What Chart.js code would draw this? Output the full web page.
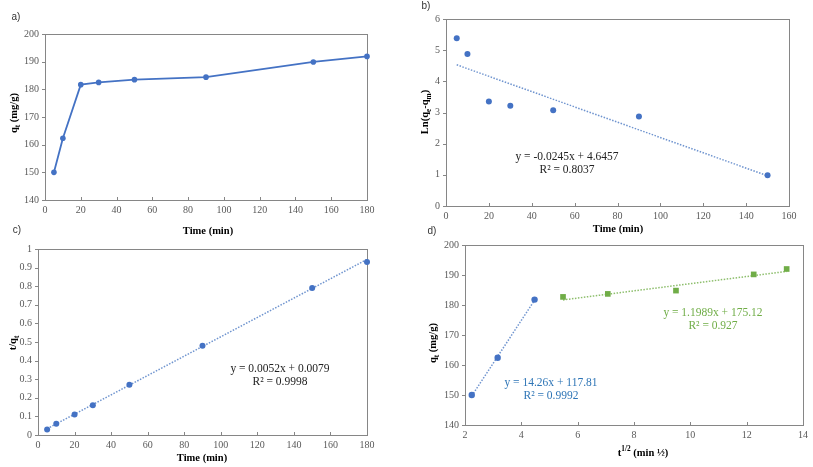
<!DOCTYPE html>
<html><head><meta charset="utf-8">
<script src="https://cdn.jsdelivr.net/npm/chart.js@4"></script>
<style>
html,body{margin:0;padding:0;background:#fff;}
#wrap{position:relative;width:813px;height:467px;overflow:hidden;background:#fff;}
canvas{position:absolute;left:0;top:0;}
.t{position:absolute;transform:translate(-50%,-50%);white-space:nowrap;font-family:'Liberation Serif',serif;color:#000;line-height:1;}
.b{font-weight:bold;font-size:10.5px;}
.r{transform:translate(-50%,-50%) rotate(-90deg);}
.lab{font-family:'Liberation Sans',sans-serif;font-size:10px;color:#333;}
.eq{font-size:11.5px;text-align:center;line-height:12.5px;color:#222;}
sub,sup{font-size:70%;line-height:0;}
</style></head>
<body><div id="wrap">
<canvas id="ca" width="813" height="467"></canvas>
<canvas id="cb" width="813" height="467"></canvas>
<canvas id="cc" width="813" height="467"></canvas>
<canvas id="cd" width="813" height="467"></canvas>

<div class="t lab" style="left:16px;top:17px;">a)</div>
<div class="t lab" style="left:426px;top:6px;">b)</div>
<div class="t lab" style="left:17px;top:230px;">c)</div>
<div class="t lab" style="left:432px;top:231px;">d)</div>

<div class="t b" style="left:208px;top:231px;">Time (min)</div>
<div class="t b r" style="left:14px;top:113px;">q<sub>t</sub> (mg/g)</div>

<div class="t b" style="left:618px;top:229px;">Time (min)</div>
<div class="t b r" style="left:425px;top:112px;">Ln(q<sub>e</sub>-q<sub>m</sub>)</div>

<div class="t b" style="left:202px;top:458px;">Time (min)</div>
<div class="t b r" style="left:13px;top:343px;">t/q<sub>t</sub></div>

<div class="t b" style="left:643px;top:453px;">t<sup>1/2</sup> (min ½)</div>
<div class="t b r" style="left:433px;top:343px;">q<sub>t</sub> (mg/g)</div>

<div class="t eq" style="left:567px;top:162px;">y = -0.0245x + 4.6457<br>R² = 0.8037</div>
<div class="t eq" style="left:280px;top:374px;">y = 0.0052x + 0.0079<br>R² = 0.9998</div>
<div class="t eq" style="left:713px;top:318px;color:#70AD47;">y = 1.1989x + 175.12<br>R² = 0.927</div>
<div class="t eq" style="left:551px;top:388px;color:#2E75B6;">y = 14.26x + 117.81<br>R² = 0.9992</div>
</div>
<script>
// ---- data ----
const timeA = [5, 10, 20, 30, 50, 90, 150, 180];
const qtA = [150, 162.3, 181.7, 182.5, 183.5, 184.4, 189.9, 191.9];

const timeB = [5, 10, 20, 30, 50, 90, 150];
const lnB = [5.38, 4.88, 3.35, 3.22, 3.07, 2.87, 0.99];
const trendBx = [5, 150];
const trendBy = [4.53, 0.97];

const timeC = [5, 10, 20, 30, 50, 90, 150, 180];
const tqC = [0.03, 0.06, 0.11, 0.16, 0.27, 0.48, 0.79, 0.93];
const trendCx = [5, 180];
const trendCy = [0.034, 0.944];

const sqrtT1 = [2.24, 3.16, 4.47];
const qt1 = [150, 162.4, 181.8];
const trend1x = [2.24, 4.47];
const trend1y = [149.7, 181.6];

const sqrtT2 = [5.48, 7.07, 9.49, 12.25, 13.42];
const qt2 = [182.7, 183.7, 184.8, 190.2, 192.0];
const trend2x = [5.48, 13.42];
const trend2y = [181.7, 191.2];

const xTicksA = {min: 0, max: 180, step: 20};
const yTicksA = {min: 140, max: 200, step: 10};
const xTicksB = {min: 0, max: 160, step: 20};
const yTicksB = {min: 0, max: 6, step: 1};
const xTicksC = {min: 0, max: 180, step: 20};
const yTicksC = {min: 0, max: 1, step: 0.1};
const xTicksD = {min: 2, max: 14, step: 2};
const yTicksD = {min: 140, max: 200, step: 10};

// ---- helpers ----
const BLUE = '#4472C4', GREEN = '#70AD47', AX = '#868686';
const pts = (xs, ys) => xs.map((x, i) => ({x: x, y: ys[i]}));
const tickFont = {family: 'Liberation Serif', size: 10};

const boxPlugin = {
  id: 'box',
  beforeDatasetsDraw(c) {
    const a = c.chartArea, ctx = c.ctx;
    ctx.save();
    ctx.strokeStyle = AX; ctx.lineWidth = 1;
    ctx.strokeRect(Math.round(a.left) + 0.5, Math.round(a.top) + 0.5,
      Math.round(a.right - a.left), Math.round(a.bottom - a.top));
    const xs = c.scales.x, ys = c.scales.y;
    ctx.beginPath();
    xs.ticks.forEach(t => { const px = Math.round(xs.getPixelForValue(t.value)) + 0.5;
      ctx.moveTo(px, a.bottom); ctx.lineTo(px, a.bottom - 3); });
    ys.ticks.forEach(t => { const py = Math.round(ys.getPixelForValue(t.value)) + 0.5;
      ctx.moveTo(a.left, py); ctx.lineTo(a.left - 3, py); });
    ctx.stroke();
    ctx.restore();
  }
};

function axis(t, isX) {
  return {
    type: 'linear', min: t.min, max: t.max,
    ticks: {stepSize: t.step, font: tickFont, color: '#595959', padding: isX ? 4 : 6,
      maxRotation: 0, autoSkip: false,
      callback: v => String(Math.round(v * 1000) / 1000)},
    grid: {display: true, drawOnChartArea: false, drawTicks: false, color: AX},
    border: {display: false},
    afterFit(s) { if (isX) s.height = 20; else s.width = 30; }
  };
}

function makeChart(id, pad, xt, yt, datasets) {
  return new Chart(document.getElementById(id), {
    type: 'scatter',
    data: {datasets: datasets},
    options: {
      responsive: false, animation: false, devicePixelRatio: 1,
      layout: {padding: pad},
      plugins: {legend: {display: false}, tooltip: {enabled: false}},
      scales: {x: axis(xt, true), y: axis(yt, false)}
    },
    plugins: [boxPlugin]
  });
}

const dotted = (data, color) => ({data: data, showLine: true, borderColor: color, borderWidth: 1.5,
  borderDash: [1.5, 1.5], pointRadius: 0, clip: false, order: 2});
const marks = (data, color, style, r) => ({data: data, showLine: false, backgroundColor: color,
  borderColor: color, pointStyle: style, pointRadius: r, borderWidth: 0, clip: false, order: 1});

// a
makeChart('ca', {left: 15, right: 446, top: 34, bottom: 247}, xTicksA, yTicksA, [
  {data: pts(timeA, qtA), showLine: true, borderColor: BLUE, borderWidth: 1.8,
   backgroundColor: BLUE, pointRadius: 2.8, pointBorderWidth: 0, clip: false}
]);
// b
makeChart('cb', {left: 416, right: 24, top: 19, bottom: 241}, xTicksB, yTicksB, [
  dotted(pts(trendBx, trendBy), '#6F94CF'),
  marks(pts(timeB, lnB), BLUE, 'circle', 3)
]);
// c
makeChart('cc', {left: 8, right: 446, top: 249, bottom: 12}, xTicksC, yTicksC, [
  dotted(pts(trendCx, trendCy), '#6F94CF'),
  marks(pts(timeC, tqC), BLUE, 'circle', 3)
]);
// d
makeChart('cd', {left: 435, right: 10, top: 245, bottom: 22}, xTicksD, yTicksD, [
  dotted(pts(trend1x, trend1y), '#6F94CF'),
  dotted(pts(trend2x, trend2y), '#8DBE6C'),
  marks(pts(sqrtT1, qt1), BLUE, 'circle', 3.2),
  marks(pts(sqrtT2, qt2), GREEN, 'rect', 4)
]);
</script>
</body></html>
